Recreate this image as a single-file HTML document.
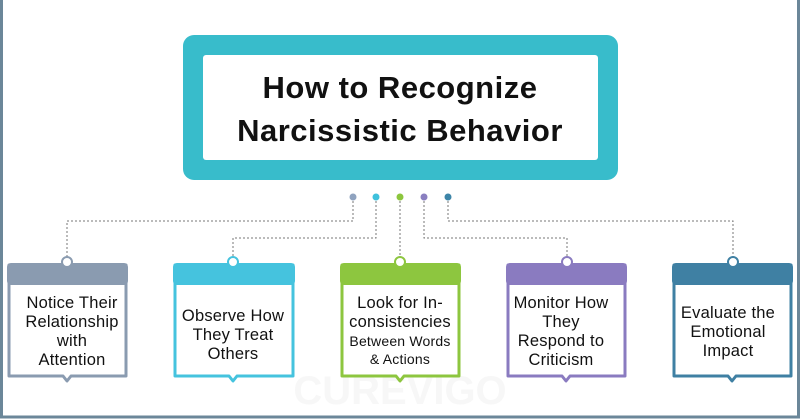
<!DOCTYPE html>
<html><head><meta charset="utf-8"><style>
html,body{margin:0;padding:0;}
body{width:800px;height:419px;overflow:hidden;background:#fff;font-family:"Liberation Sans",sans-serif;}
</style></head><body>
<svg width="800" height="419" xmlns="http://www.w3.org/2000/svg" style="display:block">
<rect x="1.5" y="-2" width="797" height="419" fill="#fff" stroke="#6b8799" stroke-width="3"/>
<text x="400" y="404" font-family="Liberation Sans, sans-serif" font-weight="bold" font-size="40" fill="#f7f7f7" text-anchor="middle">CUREVIGO</text>
<rect x="183" y="35" width="435" height="145" rx="11" fill="#38bccb"/>
<rect x="203" y="55" width="395" height="105" rx="3" fill="#fff"/>
<g font-family="Liberation Sans, sans-serif" font-weight="bold" font-size="31" fill="#111" text-anchor="middle" letter-spacing="0.5">
<text x="400" y="98">How to Recognize</text>
<text x="400" y="141">Narcissistic Behavior</text>
</g>
<g fill="none" stroke="#777" stroke-width="1" stroke-dasharray="2,2">
<path d="M353 197 V221 H67 V258"/>
<path d="M376 197 V238 H233 V258"/>
<path d="M400 197 V258"/>
<path d="M424 197 V238 H567 V258"/>
<path d="M448 197 V221 H733 V258"/>
</g>
<circle cx="353" cy="197" r="3.5" fill="#8fa3bf"/>
<circle cx="376" cy="197" r="3.5" fill="#3fc1dc"/>
<circle cx="400" cy="197" r="3.5" fill="#8cc63e"/>
<circle cx="424" cy="197" r="3.5" fill="#8a7fc0"/>
<circle cx="448" cy="197" r="3.5" fill="#3d85a8"/>
<g font-family="Liberation Sans, sans-serif" font-size="16.5" fill="#111" text-anchor="middle" letter-spacing="0.2">
<g>
<path d="M9 265 h117 v111 h-55 l-4 5 l-4 -5 h-54 z" fill="#fff" stroke="#8a9bb0" stroke-width="3" stroke-linejoin="round"/>
<rect x="7" y="263" width="121" height="22" rx="4" fill="#8a9bb0"/>
<circle cx="67" cy="262" r="5" fill="#fff" stroke="#8a9bb0" stroke-width="2"/>
<text x="72" y="308">Notice Their</text><text x="72" y="327">Relationship</text><text x="72" y="346">with</text><text x="72" y="365">Attention</text>
</g>
<g>
<path d="M175 265 h118 v111 h-56 l-4 5 l-4 -5 h-54 z" fill="#fff" stroke="#45c3de" stroke-width="3" stroke-linejoin="round"/>
<rect x="173" y="263" width="122" height="22" rx="4" fill="#45c3de"/>
<circle cx="233" cy="262" r="5" fill="#fff" stroke="#45c3de" stroke-width="2"/>
<text x="233" y="321">Observe How</text><text x="233" y="340">They Treat</text><text x="233" y="359">Others</text>
</g>
<g>
<path d="M342 265 h117 v111 h-55 l-4 5 l-4 -5 h-54 z" fill="#fff" stroke="#8dc63f" stroke-width="3" stroke-linejoin="round"/>
<rect x="340" y="263" width="121" height="22" rx="4" fill="#8dc63f"/>
<circle cx="400" cy="262" r="5" fill="#fff" stroke="#8dc63f" stroke-width="2"/>
<text x="400" y="308">Look for In-</text><text x="400" y="327">consistencies</text>
<text x="400" y="346" font-size="14">Between Words</text><text x="400" y="364" font-size="14">&amp; Actions</text>
</g>
<g>
<path d="M508 265 h117 v111 h-55 l-4 5 l-4 -5 h-54 z" fill="#fff" stroke="#8a7bc0" stroke-width="3" stroke-linejoin="round"/>
<rect x="506" y="263" width="121" height="22" rx="4" fill="#8a7bc0"/>
<circle cx="567" cy="262" r="5" fill="#fff" stroke="#8a7bc0" stroke-width="2"/>
<text x="561" y="308">Monitor How</text><text x="561" y="327">They</text><text x="561" y="346">Respond to</text><text x="561" y="365">Criticism</text>
</g>
<g>
<path d="M674 265 h117 v111 h-55 l-4 5 l-4 -5 h-54 z" fill="#fff" stroke="#3f80a3" stroke-width="3" stroke-linejoin="round"/>
<rect x="672" y="263" width="121" height="22" rx="4" fill="#3f80a3"/>
<circle cx="733" cy="262" r="5" fill="#fff" stroke="#3f80a3" stroke-width="2"/>
<text x="728" y="318">Evaluate the</text><text x="728" y="337">Emotional</text><text x="728" y="356">Impact</text>
</g>
</g>
</svg>
</body></html>
